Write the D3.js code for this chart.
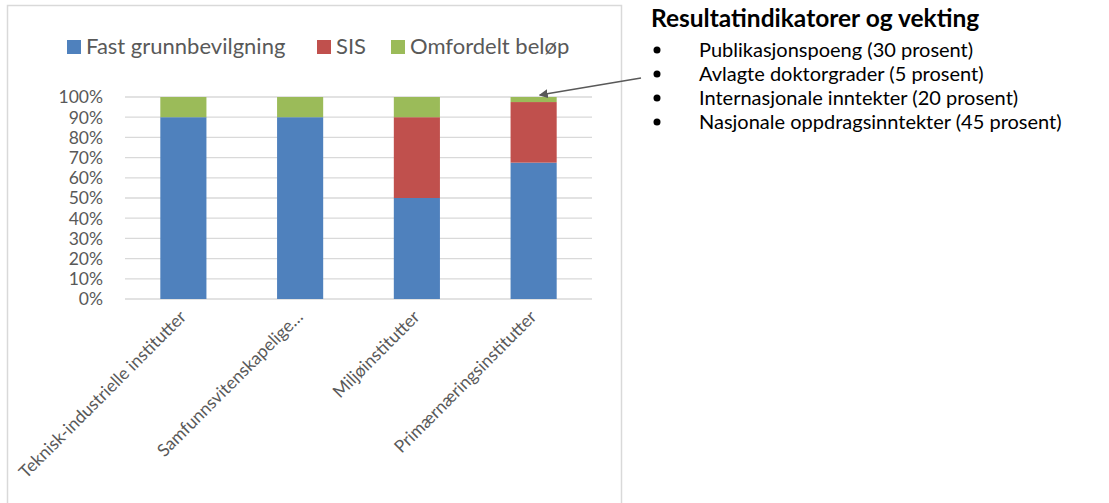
<!DOCTYPE html>
<html>
<head>
<meta charset="utf-8">
<script src="https://cdn.jsdelivr.net/npm/d3@7"></script>
<style>
  body { margin: 0; background: #fff; }
  svg { font-family: Lato, "Open Sans", sans-serif; }
</style>
</head>
<body>
<svg id="chart" width="1109" height="503"></svg>
<script>
var categories = ["Teknisk-industrielle institutter", "Samfunnsvitenskapelige…", "Miljøinstitutter", "Primærnæringsinstitutter"];
var seriesNames = ["Fast grunnbevilgning", "SIS", "Omfordelt beløp"];
var seriesColors = ["#4f81bd", "#c0504d", "#9bbb59"];
var fast = [90, 90, 50, 67.5];
var sis = [0, 0, 40, 30];
var omfordelt = [10, 10, 10, 2.5];
var yTicks = [0, 10, 20, 30, 40, 50, 60, 70, 80, 90, 100];
var boxTitle = "Resultatindikatorer og vekting";
var boxItems = ["Publikasjonspoeng (30 prosent)", "Avlagte doktorgrader (5 prosent)",
                "Internasjonale inntekter (20 prosent)", "Nasjonale oppdragsinntekter (45 prosent)"];

var svg = d3.select("#chart");

// chart frame (bottom edge runs off the picture)
svg.append("rect")
  .attr("x", 7.5).attr("y", 5.5).attr("width", 614).attr("height", 510)
  .attr("fill", "#fff").attr("stroke", "#d9d9d9").attr("stroke-width", 1.5);

var rows = categories.map(function(c, i) {
  return { cat: c, fast: fast[i], sis: sis[i], omf: omfordelt[i] };
});
var stack = d3.stack().keys(["fast", "sis", "omf"])(rows);

var x = d3.scaleBand().domain(categories).range([125, 592])
  .paddingInner(0.605).paddingOuter(0.3025);
var y = d3.scaleLinear().domain([0, 100]).range([299, 97]);

// gridlines
svg.append("g").selectAll("line").data(yTicks).enter().append("line")
  .attr("x1", 125).attr("x2", 592)
  .attr("y1", function(d) { return y(d); }).attr("y2", function(d) { return y(d); })
  .attr("stroke", "#d9d9d9").attr("stroke-width", 1.3);

// y labels
svg.append("g").selectAll("text").data(yTicks).enter().append("text")
  .attr("x", 103).attr("y", function(d) { return y(d); })
  .attr("dy", "0.36em").attr("text-anchor", "end")
  .attr("font-size", 17.5).attr("fill", "#595959")
  .text(function(d) { return d + "%"; });

// bars
svg.append("g").selectAll("g").data(stack).enter().append("g")
    .attr("fill", function(d, i) { return seriesColors[i]; })
  .selectAll("rect").data(function(d) { return d; }).enter().append("rect")
    .attr("x", function(d) { return x(d.data.cat); })
    .attr("width", x.bandwidth())
    .attr("y", function(d) { return y(d[1]); })
    .attr("height", function(d) { return y(d[0]) - y(d[1]); });

// x labels
svg.append("g").selectAll("text").data(categories).enter().append("text")
  .attr("transform", function(d) {
    return "translate(" + (x(d) + x.bandwidth() / 2 + 4) + ",318) rotate(-45)";
  })
  .attr("text-anchor", "end").attr("font-size", 17.5).attr("fill", "#595959")
  .text(function(d) { return d; });

// legend
var legX = [67, 317, 391];
var leg = svg.append("g").selectAll("g").data(seriesNames).enter().append("g")
  .attr("transform", function(d, i) { return "translate(" + legX[i] + ",40)"; });
leg.append("rect").attr("width", 14).attr("height", 14)
  .attr("fill", function(d, i) { return seriesColors[i]; });
leg.append("text").attr("x", 19).attr("y", 13.5)
  .attr("font-size", 22).attr("fill", "#595959")
  .text(function(d) { return d; });

// text box on the right
svg.append("text").attr("x", 651).attr("y", 27)
  .attr("font-size", 24.5).attr("font-weight", "bold").attr("fill", "#000")
  .text(boxTitle);
var items = svg.append("g").selectAll("g").data(boxItems).enter().append("g")
  .attr("transform", function(d, i) { return "translate(0," + (57 + i * 24) + ")"; });
items.append("circle").attr("cx", 657).attr("cy", -7).attr("r", 3.5).attr("fill", "#000");
items.append("text").attr("x", 699).attr("font-size", 20).attr("fill", "#000")
  .text(function(d) { return d; });

// arrow to the small green segment
svg.append("defs").append("marker")
  .attr("id", "head").attr("viewBox", "0 0 10 10").attr("refX", 9).attr("refY", 5)
  .attr("markerWidth", 6).attr("markerHeight", 6).attr("orient", "auto")
  .append("path").attr("d", "M0,0L10,5L0,10z").attr("fill", "#595959");
var last = stack[2][3];
svg.append("line")
  .attr("x1", 641).attr("y1", 78)
  .attr("x2", x(categories[3]) + x.bandwidth() - 17).attr("y2", y(last[1]) - 2)
  .attr("stroke", "#595959").attr("stroke-width", 1.5)
  .attr("marker-end", "url(#head)");
</script>
</body>
</html>
